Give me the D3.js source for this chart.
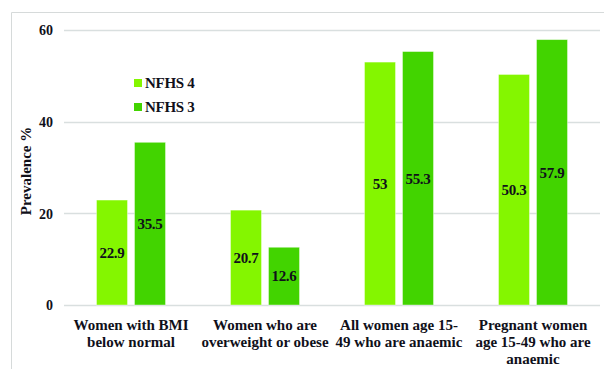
<!DOCTYPE html>
<html>
<head>
<meta charset="utf-8">
<script src="https://cdn.jsdelivr.net/npm/d3@7"></script>
<style>
  html, body { margin: 0; padding: 0; background: #fff; }
</style>
</head>
<body>
<svg id="chart" width="604" height="369"></svg>
<script>
// Anaemia and nutritional status of women, NFHS 4 vs NFHS 3
const categories = [
  ["Women with BMI", "below normal"],
  ["Women who are", "overweight or obese"],
  ["All women age 15-", "49 who are anaemic"],
  ["Pregnant women", "age 15-49 who are", "anaemic"]
];
const seriesNames = ["NFHS 4", "NFHS 3"];
const nfhs4 = [22.9, 20.7, 53, 50.3];
const nfhs3 = [35.5, 12.6, 55.3, 57.9];
const yTicks = [0, 20, 40, 60];
const colors = ["#84f600", "#42d400"];

const FONT = "'Liberation Serif', 'Times New Roman', serif";
const INK = "#10101a";

const svg = d3.select("#chart");
const margin = { left: 64, right: 4, top: 30, bottom: 64 };
const W = 604, H = 369;

function styleText(sel, size) {
  return sel.style("font-family", FONT).style("font-weight", "bold")
    .style("font-size", size + "px").attr("fill", INK);
}

// outer frame (top and left edges visible)
svg.append("path")
  .attr("d", `M11.5,${H} L11.5,12.5 L${W},12.5`)
  .attr("fill", "none").attr("stroke", "#d6dada").attr("stroke-width", 1);

const x = d3.scaleBand().domain(d3.range(categories.length))
  .range([margin.left, W - margin.right]).paddingInner(0).paddingOuter(0);
const y = d3.scaleLinear().domain([0, 60]).range([H - margin.bottom, margin.top]);

// gridlines
svg.append("g").selectAll("line").data(yTicks).join("line")
  .attr("x1", margin.left).attr("x2", W - margin.right)
  .attr("y1", d => Math.round(y(d)) + 0.5).attr("y2", d => Math.round(y(d)) + 0.5)
  .attr("stroke", "#d9dfdf").attr("stroke-width", 1.3);

// y axis tick labels
const yAxis = d3.axisLeft(y).tickValues(yTicks).tickSize(0).tickPadding(11);
const gy = svg.append("g").attr("transform", `translate(${margin.left},0)`).call(yAxis);
gy.select(".domain").remove();
styleText(gy.selectAll("text"), 14).attr("dy", "0.35em");

// y axis title
styleText(svg.append("text"), 15)
  .attr("transform", `translate(31,171) rotate(-90)`)
  .attr("text-anchor", "middle")
  .text("Prevalence  %");

// bars
const barW = 31, gap = 7;
const data = categories.map((c, i) => ({ i, vals: [nfhs4[i], nfhs3[i]] }));
const groups = svg.append("g").selectAll("g").data(data).join("g")
  .attr("transform", d => `translate(${x(d.i) + x.bandwidth() / 2},0)`);

groups.each(function(d) {
  const g = d3.select(this);
  d.vals.forEach((v, s) => {
    const bx = s === 0 ? -(barW + gap / 2) : gap / 2;
    g.append("rect")
      .attr("x", bx).attr("y", y(v))
      .attr("width", barW).attr("height", y(0) - y(v))
      .attr("fill", colors[s]).attr("stroke", "#ffffff").attr("stroke-opacity", 0.5).attr("stroke-width", 0.8);
    styleText(g.append("text"), 15)
      .attr("x", bx + barW / 2).attr("y", (y(v) + y(0)) / 2)
      .attr("dy", "0.35em").attr("text-anchor", "middle")
      .attr("letter-spacing", -0.3)
      .text(v);
  });
});

// category labels
const labels = styleText(svg.append("g").selectAll("text").data(categories).join("text"), 15)
  .attr("text-anchor", "middle")
  .attr("transform", (d, i) => `translate(${x(i) + x.bandwidth() / 2},${H - margin.bottom + 25})`);
labels.selectAll("tspan").data(d => d).join("tspan")
  .attr("x", 0).attr("dy", (d, j) => j === 0 ? 0 : 17).text(d => d);

// legend
const legend = svg.append("g").attr("transform", "translate(134,83)");
seriesNames.forEach((n, s) => {
  const row = legend.append("g").attr("transform", `translate(0,${s * 24})`);
  row.append("rect").attr("x", 0).attr("y", -4).attr("width", 8).attr("height", 8).attr("fill", colors[s]);
  styleText(row.append("text"), 15).attr("x", 11).attr("y", 0).attr("dy", "0.35em")
    .attr("letter-spacing", -0.3).text(n);
});
</script>
</body>
</html>
